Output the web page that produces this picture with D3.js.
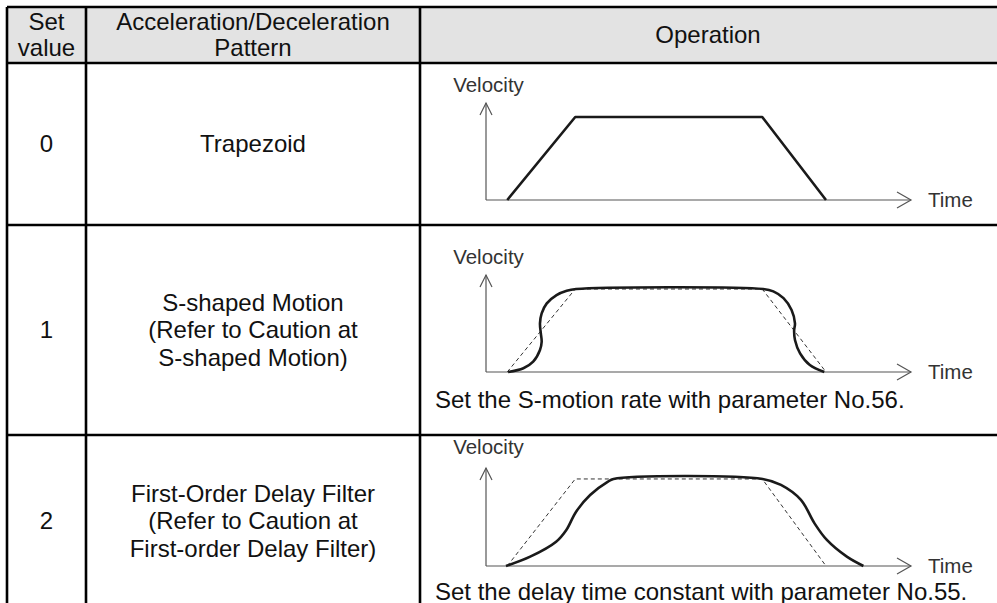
<!DOCTYPE html>
<html>
<head>
<meta charset="utf-8">
<script src="https://cdn.jsdelivr.net/npm/d3@7.9.0/dist/d3.min.js"></script>
<style>
    body { margin: 0; background: #fff; }
    svg { display: block; font-family: "Liberation Sans", Arial, sans-serif; }
</style>
</head>
<body>
<svg id="chart" width="997" height="603"></svg>
<script>
// table text
const headerLabels = [["Set", "value"], ["Acceleration/Deceleration", "Pattern"], ["Operation"]];
const setValues = ["0", "1", "2"];
const patternNames = [
    ["Trapezoid"],
    ["S-shaped Motion", "(Refer to Caution at", "S-shaped Motion)"],
    ["First-Order Delay Filter", "(Refer to Caution at", "First-order Delay Filter)"]
];
const captions = ["", "Set the S-motion rate with parameter No.56.", "Set the delay time constant with parameter No.55."];

// command profile (trapezoid), time units 0..10, velocity 1 = plateau
const commandTime = [0.5, 2.1, 6.5, 8.0];
const commandVelocity = [0, 1, 1, 0];

// S-shaped motion
const sCurveTime = [0.52, 0.88, 1.11, 1.27, 1.31, 1.29, 1.27, 1.31, 1.43, 1.66, 1.90, 2.12,
    6.52, 6.76, 7.00, 7.19, 7.27, 7.25, 7.27, 7.39, 7.62, 7.96];
const sCurveVelocity = [0, 0.045, 0.124, 0.265, 0.365, 0.466, 0.586, 0.707, 0.827, 0.927, 0.979, 1,
    1, 0.972, 0.89, 0.747, 0.586, 0.5, 0.386, 0.225, 0.084, 0];

// first-order delay filter output
const delayTime = [0.47, 1.04, 1.65, 1.89, 2.12, 2.45, 2.87, 3.0, 6.51, 6.94, 7.41, 7.73, 8.02, 8.49, 8.88];
const delayVelocity = [0, 0.107, 0.279, 0.414, 0.624, 0.816, 0.969, 1, 1, 0.931, 0.759, 0.49, 0.299, 0.107, 0];

// layout
const colX = [7, 86, 420, 1000];
const rowY = [7, 63, 225, 435, 612];
const axisX = [486, 911];
const origins = [200, 372, 566];
const tips = [103, 275, 468];
const topValue = [1.169, 1.169, 1.126];
const velLabelY = [85, 257, 447];
const captionY = [400, 592];
const nameCenterY = [144, 330, 521];

const svg = d3.select("#chart");
const fontSize = 24;
const labelSize = 20.5;
const lineGap = 27.5;

// header fill
svg.append("rect")
    .attr("x", colX[0]).attr("y", rowY[0])
    .attr("width", colX[3] - colX[0]).attr("height", rowY[1] - rowY[0])
    .attr("fill", "#e3e3e3");

// header text
headerLabels.forEach((lines, i) => {
    let cx = (colX[i] + colX[i + 1]) / 2;
    if (i === 2) cx = 708;
    let cy = (rowY[0] + rowY[1]) / 2;
    lines.forEach((t, j) => {
        svg.append("text")
            .attr("x", cx)
            .attr("y", cy + (j - (lines.length - 1) / 2) * 26)
            .attr("dy", "0.35em")
            .attr("text-anchor", "middle")
            .attr("font-size", fontSize)
            .attr("fill", "#111")
            .text(t);
    });
});

// body rows: value + pattern name
setValues.forEach((v, i) => {
    let cy = nameCenterY[i];
    svg.append("text")
        .attr("x", (colX[0] + colX[1]) / 2)
        .attr("y", cy).attr("dy", "0.35em")
        .attr("text-anchor", "middle")
        .attr("font-size", fontSize).attr("fill", "#111")
        .text(v);
    let lines = patternNames[i];
    lines.forEach((t, j) => {
        svg.append("text")
            .attr("x", (colX[1] + colX[2]) / 2)
            .attr("y", cy + (j - (lines.length - 1) / 2) * lineGap)
            .attr("dy", "0.35em")
            .attr("text-anchor", "middle")
            .attr("font-size", fontSize).attr("fill", "#111")
            .text(t);
    });
});

// diagrams
const profiles = [
    { solid: [commandTime, commandVelocity], dashed: null },
    { solid: [sCurveTime, sCurveVelocity], dashed: [commandTime, commandVelocity] },
    { solid: [delayTime, delayVelocity], dashed: [commandTime, commandVelocity] }
];

profiles.forEach((p, i) => {
    let x = d3.scaleLinear().domain([0, 10]).range(axisX);
    let y = d3.scaleLinear().domain([0, topValue[i]]).range([origins[i], tips[i]]);
    let g = svg.append("g");

    // axes
    g.append("line").attr("x1", x(0)).attr("x2", x(10)).attr("y1", y(0)).attr("y2", y(0))
        .attr("stroke", "#555").attr("stroke-width", 1.2);
    g.append("line").attr("x1", x(0)).attr("x2", x(0)).attr("y1", y(0)).attr("y2", y(topValue[i]))
        .attr("stroke", "#555").attr("stroke-width", 1.2);
    g.append("path")
        .attr("d", `M${x(10) - 14},${y(0) - 8}L${x(10)},${y(0)}L${x(10) - 14},${y(0) + 8}`)
        .attr("fill", "none").attr("stroke", "#555").attr("stroke-width", 1.2);
    g.append("path")
        .attr("d", `M${x(0) - 6},${y(topValue[i]) + 12}L${x(0)},${y(topValue[i])}L${x(0) + 6},${y(topValue[i]) + 12}`)
        .attr("fill", "none").attr("stroke", "#555").attr("stroke-width", 1.2);

    g.append("text").attr("x", x(0) + 2.5).attr("y", velLabelY[i]).attr("dy", "0.35em")
        .attr("text-anchor", "middle").attr("font-size", labelSize).attr("fill", "#333")
        .text("Velocity");
    g.append("text").attr("x", x(10) + 17).attr("y", y(0)).attr("dy", "0.35em")
        .attr("font-size", labelSize).attr("fill", "#333")
        .text("Time");

    if (p.dashed) {
        let pts = d3.zip(p.dashed[0], p.dashed[1]);
        g.append("path")
            .attr("d", d3.line().x(d => x(d[0])).y(d => y(d[1]))(pts))
            .attr("fill", "none").attr("stroke", "#333").attr("stroke-width", 1)
            .attr("stroke-dasharray", "4,3");
    }

    let pts = d3.zip(p.solid[0], p.solid[1]);
    let curve = i === 0 ? d3.curveLinear : d3.curveCatmullRom.alpha(0.5);
    g.append("path")
        .attr("d", d3.line().x(d => x(d[0])).y(d => y(d[1])).curve(curve)(pts))
        .attr("fill", "none").attr("stroke", "#1a1a1a").attr("stroke-width", 2.6)
        .attr("stroke-linejoin", "round");
});

captions.forEach((c, i) => {
    if (!c) return;
    svg.append("text")
        .attr("x", 435).attr("y", captionY[i - 1]).attr("dy", "0.35em")
        .attr("font-size", fontSize).attr("fill", "#111")
        .text(c);
});

// grid lines
const grid = svg.append("g").attr("stroke", "#000").attr("stroke-width", 2.6);
rowY.slice(0, 4).forEach(yy => {
    grid.append("line").attr("x1", colX[0]).attr("x2", colX[3]).attr("y1", yy).attr("y2", yy);
});
colX.slice(0, 3).forEach(xx => {
    grid.append("line").attr("x1", xx).attr("x2", xx).attr("y1", rowY[0]).attr("y2", rowY[4]);
});
</script>
</body>
</html>
